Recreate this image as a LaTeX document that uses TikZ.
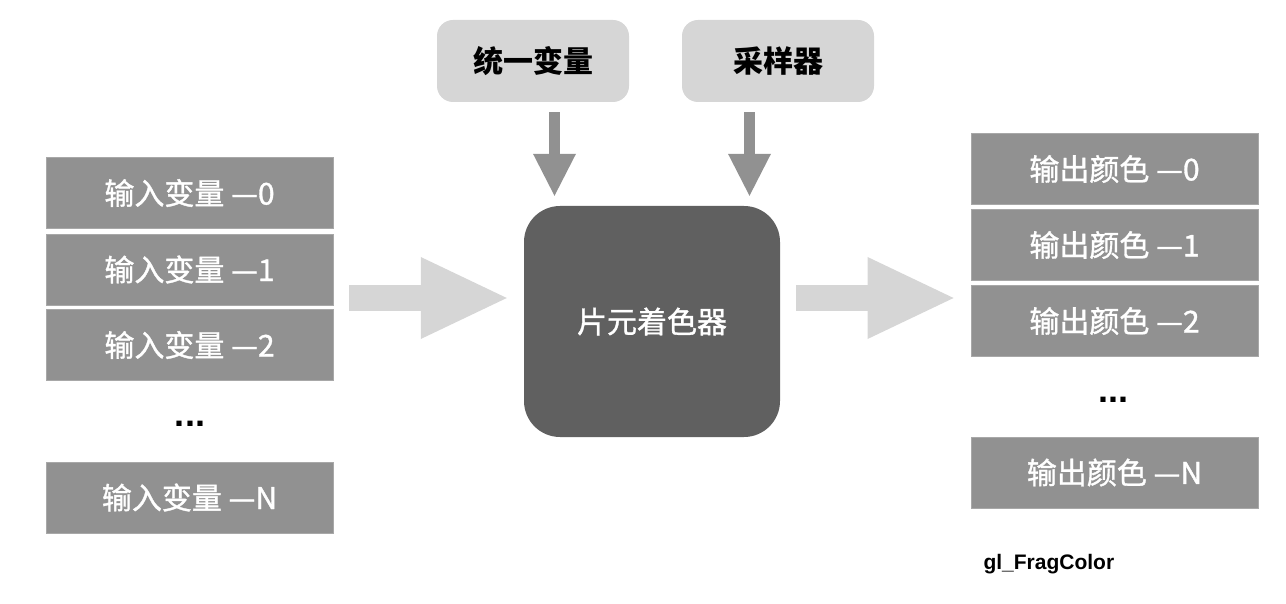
\documentclass[tikz,border=0pt]{standalone}
\usepackage{fontspec}
\setmainfont{Noto Sans CJK SC}
\newfontfamily\boxfont{Noto Sans CJK SC}[FakeBold=1.2]
\newfontfamily\latinfont{Liberation Sans}
\usepackage{tikz}
\usepackage{xcolor}
\usetikzlibrary{arrows.meta, positioning}
\definecolor{boxgray}{HTML}{919191}
\definecolor{edgegray}{HTML}{A8A8A8}
\definecolor{palegray}{HTML}{D6D6D6}
\definecolor{coregray}{HTML}{606060}

\begin{document}
\begin{tikzpicture}[x=1pt, y=-1pt,
        var/.style={rectangle, draw=edgegray, line width=0.8pt, fill=boxgray, text=white, minimum width=287pt, minimum height=71pt, inner sep=0pt, font=\boxfont\fontsize{30}{32}\selectfont},
        uni/.style={rectangle, rounded corners=16pt, fill=palegray, minimum width=192pt, minimum height=82pt, font=\fontsize{30}{32}\selectfont\bfseries},
        dots/.style={anchor=base, font=\latinfont\bfseries\fontsize{36}{38}\selectfont},
        fat/.style={draw=palegray, line width=26pt, -{Triangle[length=86pt, width=82pt, line width=0pt]}, shorten <=16pt, shorten >=17pt},
        feed/.style={draw=boxgray, line width=11pt, -{Triangle[length=42pt, width=43pt, line width=0pt]}, shorten <=10pt, shorten >=10pt}]
        \useasboundingbox (0, 0) rectangle (1286, 604);

        \node[var] (in0) at (189.5, 193) {输入变量 —0};
        \node[var] (in1) at (189.5, 269.5) {输入变量 —1};
        \node[var] (in2) at (189.5, 345) {输入变量 —2};
        \node[dots] (indots) at (190, 426) {...};
        \node[var] (inN) at (189.5, 497.5) {输入变量 —N};

        \node[uni] (uniform) at (533, 61) {统一变量};
        \node[uni] (sampler) at (778, 61) {采样器};

        \node[rectangle, rounded corners=36pt, fill=coregray, text=white, minimum width=256pt, minimum height=231pt, font=\boxfont\fontsize{30}{32}\selectfont] (core) at (652, 321.5) {片元着色器};

        \node[var] (out0) at (1114.5, 169) {输出颜色 —0};
        \node[var] (out1) at (1114.5, 245) {输出颜色 —1};
        \node[var] (out2) at (1114.5, 321) {输出颜色 —2};
        \node[dots] (outdots) at (1113, 402) {...};
        \node[var] (outN) at (1114.5, 472.5) {输出颜色 —N};

        \node[anchor=base west, font=\latinfont\bfseries\fontsize{21}{23}\selectfont] (frag) at (980, 569) {gl\_FragColor};

        \coordinate (u1) at ([xshift=-97.5pt]core.north);
        \coordinate (u2) at ([xshift=97.5pt]core.north);
        \coordinate (inlet) at ([yshift=23.5pt]core.west);
        \coordinate (outlet) at ([yshift=23.5pt]core.east);

        \draw[feed] (u1 |- uniform.south) to (u1);
        \draw[feed] (u2 |- sampler.south) to (u2);
        \draw[fat] (in1.east |- inlet) to (inlet);
        \draw[fat] (outlet) to (outlet -| out2.west);
\end{tikzpicture}
\end{document}
